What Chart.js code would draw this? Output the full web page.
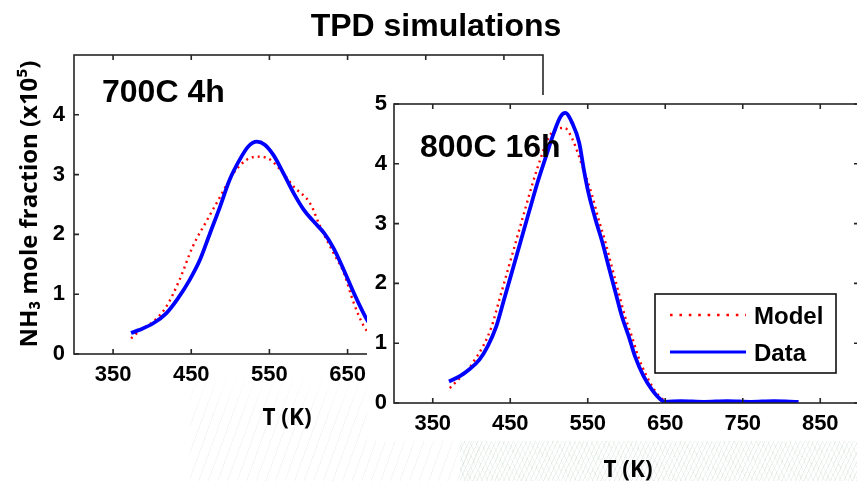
<!DOCTYPE html>
<html><head><meta charset="utf-8">
<script src="https://cdn.jsdelivr.net/npm/chart.js@4.4.0/dist/chart.umd.min.js"></script>
<style>
html,body{margin:0;padding:0;background:#fff;overflow:hidden;width:857px;height:481px;}
#wrap{position:relative;width:857px;height:481px;overflow:hidden;}
#cA{position:absolute;left:0;top:0;}
#cB{position:absolute;left:367px;top:95px;background:#fff;}
#bgL{position:absolute;left:190px;top:372px;width:290px;height:109px;
  background:repeating-linear-gradient(110deg, rgba(150,150,150,0.09) 0 1px, transparent 1px 9px);
  -webkit-mask-image:linear-gradient(to bottom, transparent, #000 40%);
  mask-image:linear-gradient(to bottom, transparent, #000 40%);}
#bgR{position:absolute;left:460px;top:441px;width:400px;height:40px;
  background:repeating-linear-gradient(115deg, rgba(120,165,135,0.14) 0 1px, transparent 1px 4px),
             repeating-linear-gradient(65deg, rgba(120,165,135,0.09) 0 1px, transparent 1px 5px);}
</style></head><body>
<div id="wrap"><div id="bgL"></div><div id="bgR"></div><canvas id="cA" width="857" height="481"></canvas><canvas id="cB" width="500" height="346"></canvas></div>
<script>
// ---- text ----
const chartTitle = 'TPD simulations';
const yAxisLabel = 'NH₃ mole fraction (x10⁵)';
const xAxisLabel = 'T (K)';
const panelLabels = ['700C 4h', '800C 16h'];
const seriesNames = ['Data', 'Model'];

// ---- ticks ----
const xTickValues = [350, 450, 550, 650, 750, 850];
const yTicksLeft = [0, 1, 2, 3, 4];
const yTicksRight = [0, 1, 2, 3, 4, 5];

// ---- 700C 4h ----
const tDataA   = [373,383,401,418,433,448,461,474,487,499,512,523,534,544,555,568,581,594,607,620,632,645,658,675,690];
const nh3DataA = [0.35,0.40,0.51,0.68,0.93,1.24,1.57,2.02,2.47,2.91,3.25,3.47,3.55,3.50,3.33,3.02,2.69,2.41,2.21,2.02,1.77,1.41,1.02,0.57,0.30];
const tModelA   = [373,383,401,418,435,452,469,487,504,521,538,551,564,581,602,615,632,645,658,671,690];
const nh3ModelA = [0.26,0.38,0.54,0.79,1.24,1.80,2.21,2.63,3.02,3.25,3.30,3.25,3.08,2.80,2.52,2.13,1.69,1.36,0.85,0.46,0.15];

// ---- 800C 16h ----
const tDataB   = [371,385,397,410,421,432,442,453,464,475,485,496,506,515,521,530,539,545,551,560,569,577,586,594,603,611,622,633,644,650,670,700,730,760,790,822];
const nh3DataB = [0.36,0.45,0.56,0.72,0.95,1.28,1.73,2.23,2.73,3.23,3.68,4.12,4.51,4.79,4.85,4.68,4.35,3.90,3.51,3.07,2.68,2.28,1.84,1.45,1.11,0.78,0.45,0.22,0.06,0.02,0.03,0.02,0.03,0.02,0.03,0.02];
const tModelB   = [372,385,397,404,415,426,436,447,458,469,479,490,500,510,520,530,538,546,555,564,573,581,590,598,607,615,626,637,648,660,700,750,800,822];
const nh3ModelB = [0.25,0.42,0.58,0.72,0.95,1.28,1.73,2.23,2.73,3.23,3.68,4.12,4.45,4.58,4.60,4.42,4.15,3.85,3.50,3.07,2.68,2.28,1.84,1.45,1.11,0.78,0.45,0.20,0.05,0.01,0.01,0.01,0.01,0.01];

const ARIAL = "'Liberation Sans', Arial, sans-serif";
const CALIBRI = "'Open Sans', 'Noto Sans', sans-serif";

function pts(xs, ys) { return xs.map((x, i) => ({ x: x, y: ys[i] })); }
function fitFont(ctx, text, weight, family, target) {
  ctx.font = weight + ' 100px ' + family;
  const w = ctx.measureText(text).width;
  return weight + ' ' + (100 * target / w).toFixed(2) + 'px ' + family;
}

const frame = {
  id: 'frame',
  afterDatasetsDraw(chart) {
    const { ctx, chartArea: a, scales: { x, y } } = chart;
    ctx.save();
    ctx.strokeStyle = '#262626';
    ctx.lineWidth = 1.6;
    ctx.strokeRect(a.left, a.top, a.right - a.left, a.bottom - a.top);
    ctx.beginPath();
    const L = 5;
    x.ticks.forEach(t => {
      const px = x.getPixelForValue(t.value);
      ctx.moveTo(px, a.bottom); ctx.lineTo(px, a.bottom - L);
      ctx.moveTo(px, a.top); ctx.lineTo(px, a.top + L);
    });
    y.ticks.forEach(t => {
      const py = y.getPixelForValue(t.value);
      ctx.moveTo(a.left, py); ctx.lineTo(a.left + L, py);
      ctx.moveTo(a.right, py); ctx.lineTo(a.right - L, py);
    });
    ctx.stroke();
    ctx.restore();
  }
};

const pageTexts = {
  id: 'pageTexts',
  afterDraw(chart) {
    const { ctx, chartArea: a } = chart;
    ctx.save();
    ctx.fillStyle = '#000';
    ctx.textBaseline = 'alphabetic';
    ctx.font = 'bold 32px ' + ARIAL;
    ctx.textAlign = 'center';
    ctx.fillText(chartTitle, 436, 36);
    ctx.textAlign = 'left';
    ctx.fillText(panelLabels[0], a.left + 28, a.top + 47);
    ctx.save();
    ctx.translate(30, 204);
    ctx.rotate(-Math.PI / 2);
    ctx.font = fitFont(ctx, yAxisLabel, 'bold', CALIBRI, 287);
    ctx.textAlign = 'center';
    ctx.textBaseline = 'middle';
    ctx.fillText(yAxisLabel, 0, 0);
    ctx.restore();
    ctx.font = fitFont(ctx, xAxisLabel, 'bold', CALIBRI, 49);
    ctx.textAlign = 'center';
    ctx.fillText(xAxisLabel, 287, 425);
    ctx.fillText(xAxisLabel, 628, 477);
    ctx.restore();
  }
};

const panelB = {
  id: 'panelB',
  afterDraw(chart) {
    const { ctx, chartArea: a } = chart;
    ctx.save();
    ctx.fillStyle = '#000';
    ctx.font = 'bold 32px ' + ARIAL;
    ctx.textAlign = 'left';
    ctx.textBaseline = 'alphabetic';
    ctx.fillText(panelLabels[1], a.left + 26, a.top + 53);
    const bw = 181, bh = 79;
    const bx = a.right - 23 - bw, by = a.bottom - 30 - bh;
    ctx.fillStyle = '#fff';
    ctx.fillRect(bx, by, bw, bh);
    ctx.strokeStyle = '#111';
    ctx.lineWidth = 1.6;
    ctx.strokeRect(bx, by, bw, bh);
    const ds = chart.data.datasets;
    const order = ['Model', 'Data'];
    order.forEach((name, i) => {
      const d = ds.find(s => s.label === name);
      const ly = by + 21 + i * 37;
      ctx.beginPath();
      ctx.strokeStyle = d.borderColor;
      if (d.borderDash && d.borderDash.length) { ctx.setLineDash([2.6, 6.8]); ctx.lineWidth = 2.6; }
      else { ctx.setLineDash([]); ctx.lineWidth = 3; }
      ctx.moveTo(bx + 15, ly); ctx.lineTo(bx + 91, ly);
      ctx.stroke();
      ctx.setLineDash([]);
      ctx.fillStyle = '#000';
      ctx.font = 'bold 24px ' + ARIAL;
      ctx.fillText(name, bx + 99, ly + 9);
    });
    ctx.restore();
  }
};

function makeChart(canvas, dataPts, modelPts, yTicks, dims, plugins) {
  return new Chart(canvas, {
    type: 'line',
    data: {
      datasets: [
        { label: seriesNames[0], data: dataPts, borderColor: '#0000ff', borderWidth: 3.8,
          pointRadius: 0, cubicInterpolationMode: 'monotone', fill: false },
        { label: seriesNames[1], data: modelPts, borderColor: '#ff0000', borderWidth: 2.4,
          borderDash: [2, 4], pointRadius: 0, cubicInterpolationMode: 'monotone', fill: false }
      ]
    },
    options: {
      responsive: false,
      animation: false,
      events: [],
      layout: { padding: dims.padding },
      plugins: { legend: { display: false }, tooltip: { enabled: false }, title: { display: false } },
      scales: {
        x: {
          type: 'linear', min: 300, max: 900,
          grid: { display: false, drawTicks: false },
          border: { display: false },
          afterBuildTicks: s => { s.ticks = xTickValues.map(v => ({ value: v })); },
          afterFit: s => { s.height = dims.xHeight; s.paddingLeft = 0; s.paddingRight = 0; s.paddingTop = 0; s.paddingBottom = 0; },
          ticks: { autoSkip: false, maxRotation: 0, padding: dims.xPad, color: '#000',
                   font: { family: ARIAL, size: 22, weight: 'bold' } }
        },
        y: {
          type: 'linear', min: 0, max: 5,
          grid: { display: false, drawTicks: false },
          border: { display: false },
          afterBuildTicks: s => { s.ticks = yTicks.map(v => ({ value: v })); },
          afterFit: s => { s.width = dims.yWidth; s.paddingLeft = 0; s.paddingRight = 0; s.paddingTop = 0; s.paddingBottom = 0; },
          ticks: { padding: dims.yPad, color: '#000', font: { family: ARIAL, size: 22, weight: 'bold' } }
        }
      }
    },
    plugins: plugins
  });
}

makeChart(document.getElementById('cA'), pts(tDataA, nh3DataA), pts(tModelA, nh3ModelA), yTicksLeft,
  { padding: { left: 0, top: 55, right: 314, bottom: 0 }, xHeight: 127, yWidth: 74, xPad: 8, yPad: 9 },
  [frame, pageTexts]);

makeChart(document.getElementById('cB'), pts(tDataB, nh3DataB), pts(tModelB, nh3ModelB), yTicksRight,
  { padding: { left: 0, top: 9, right: 8, bottom: 0 }, xHeight: 38, yWidth: 27, xPad: 8, yPad: 7 },
  [frame, panelB]);
</script>
</body></html>
